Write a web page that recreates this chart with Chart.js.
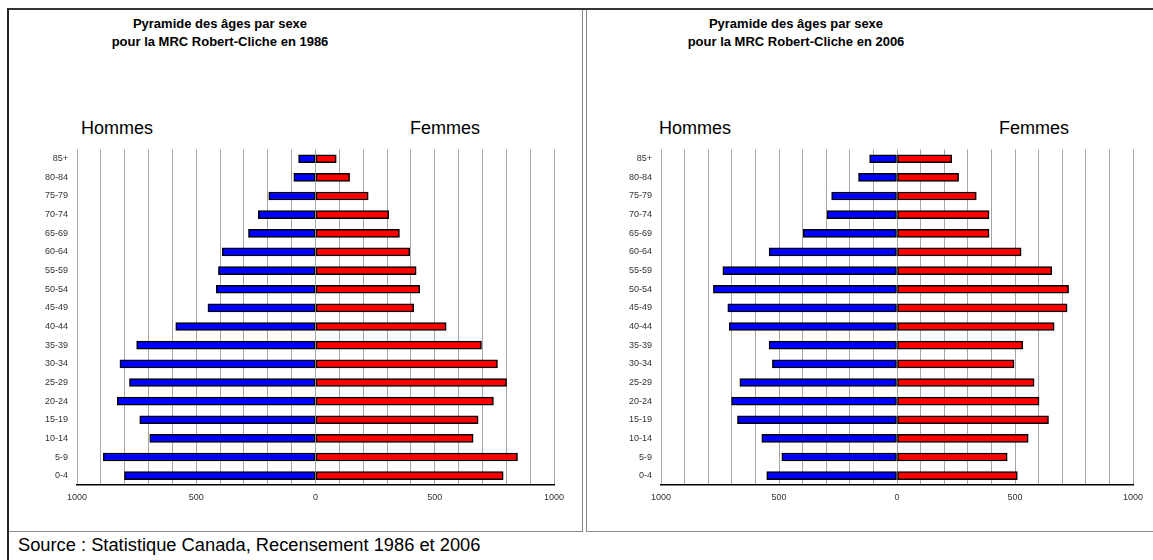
<!DOCTYPE html>
<html lang="fr">
<head>
<meta charset="utf-8">
<title>Pyramide des âges - MRC Robert-Cliche</title>
<script src="https://cdn.jsdelivr.net/npm/chart.js@4"></script>
<style>
  html, body { margin: 0; padding: 0; background: #fff; }
  body { width: 1153px; height: 560px; position: relative; overflow: hidden; font-family: "Liberation Sans", Arial, sans-serif; }
  .frame { position: absolute; left: 7px; top: 8px; width: 1146px; height: 552px; border-left: 2px solid #222; border-top: 2px solid #333; }
  .box { position: absolute; top: 10px; height: 521px; border-bottom: 1px solid #888; }
  #boxLeft { left: 9px; width: 573px; border-right: 1px solid #888; }
  #boxRight { left: 586px; width: 567px; border-left: 1px solid #888; }
  .title { position: absolute; font-weight: bold; font-size: 13px; line-height: 18px; text-align: center; color: #000; width: 300px; top: 15px; }
  .sex { position: absolute; font-size: 18px; line-height: 22px; color: #000; top: 117px; }
  .wrap { position: absolute; top: 135px; height: 380px; }
  #source { position: absolute; left: 18px; top: 533px; font-size: 18.3px; line-height: 24px; color: #000; white-space: nowrap; }
</style>
</head>
<body>
<div class="frame"></div>
<div class="box" id="boxLeft"></div>
<div class="box" id="boxRight"></div>

<div class="title" style="left:70px">Pyramide des âges par sexe<br>pour la MRC Robert-Cliche en 1986</div>
<div class="title" style="left:646px">Pyramide des âges par sexe<br>pour la MRC Robert-Cliche en 2006</div>

<div class="sex" style="left:81px">Hommes</div>
<div class="sex" style="left:410px">Femmes</div>
<div class="sex" style="left:659px">Hommes</div>
<div class="sex" style="left:999px">Femmes</div>

<div class="wrap" style="left:8px;width:575px"><canvas id="chart1986"></canvas></div>
<div class="wrap" style="left:586px;width:567px"><canvas id="chart2006"></canvas></div>

<div id="source">Source : Statistique Canada, Recensement 1986 et 2006</div>

<script>
// Age groups, top to bottom
const ageGroups = ['85+', '80-84', '75-79', '70-74', '65-69', '60-64', '55-59', '50-54', '45-49',
  '40-44', '35-39', '30-34', '25-29', '20-24', '15-19', '10-14', '5-9', '0-4'];

// 1986
const men1986 = [71, 91, 196, 240, 281, 391, 407, 416, 451, 586, 750, 820, 780, 831, 737, 695, 890, 801];
const women1986 = [87, 143, 221, 307, 352, 395, 422, 437, 412, 548, 696, 763, 801, 746, 682, 661, 847, 787];

// 2006
const men2006 = [116, 163, 277, 297, 397, 542, 738, 778, 717, 711, 542, 528, 666, 701, 676, 573, 488, 552];
const women2006 = [232, 261, 336, 390, 390, 526, 656, 727, 721, 666, 533, 496, 581, 602, 642, 556, 467, 510];

// Labelled ticks on the x axis (gridlines every 100)
const xTickValues = [-1000, -500, 0, 500, 1000];

const fontFamily = '"Liberation Sans", Arial, sans-serif';

function makePyramid(canvasId, men, women, yAxisWidth, padRight) {
  const ctx = document.getElementById(canvasId).getContext('2d');
  return new Chart(ctx, {
    type: 'bar',
    data: {
      labels: ageGroups,
      datasets: [
        {
          label: 'Hommes',
          data: men.map(v => -v),
          backgroundColor: '#0000ff',
          borderColor: '#000000',
          borderWidth: 1.5,
          borderSkipped: false,
          barThickness: 8
        },
        {
          label: 'Femmes',
          data: women,
          backgroundColor: '#ff0000',
          borderColor: '#000000',
          borderWidth: 1.5,
          borderSkipped: false,
          barThickness: 8
        }
      ]
    },
    options: {
      indexAxis: 'y',
      responsive: true,
      maintainAspectRatio: false,
      animation: false,
      layout: { padding: { top: 3, right: padRight, bottom: 0, left: 0 } },
      plugins: { legend: { display: false }, tooltip: { enabled: false }, title: { display: false } },
      scales: {
        x: {
          stacked: true,
          min: -1000,
          max: 1000,
          border: { display: true, color: '#000000', width: 1.5 },
          grid: { color: '#a6a6a6', lineWidth: 1, drawTicks: false },
          ticks: {
            stepSize: 100,
            autoSkip: false,
            maxRotation: 0,
            padding: 7,
            color: '#333333',
            font: { family: fontFamily, size: 9 },
            callback: (v) => xTickValues.includes(v) ? String(Math.abs(v)) : ''
          },
          afterFit: (scale) => { scale.height = 30; }
        },
        y: {
          stacked: true,
          border: { display: false },
          grid: { display: false, drawTicks: false },
          ticks: {
            padding: 9,
            color: '#333333',
            font: { family: fontFamily, size: 9 }
          },
          afterFit: (scale) => { scale.width = yAxisWidth; }
        }
      }
    }
  });
}

makePyramid('chart1986', men1986, women1986, 69, 29);
makePyramid('chart2006', men2006, women2006, 75, 20);
</script>
</body>
</html>
